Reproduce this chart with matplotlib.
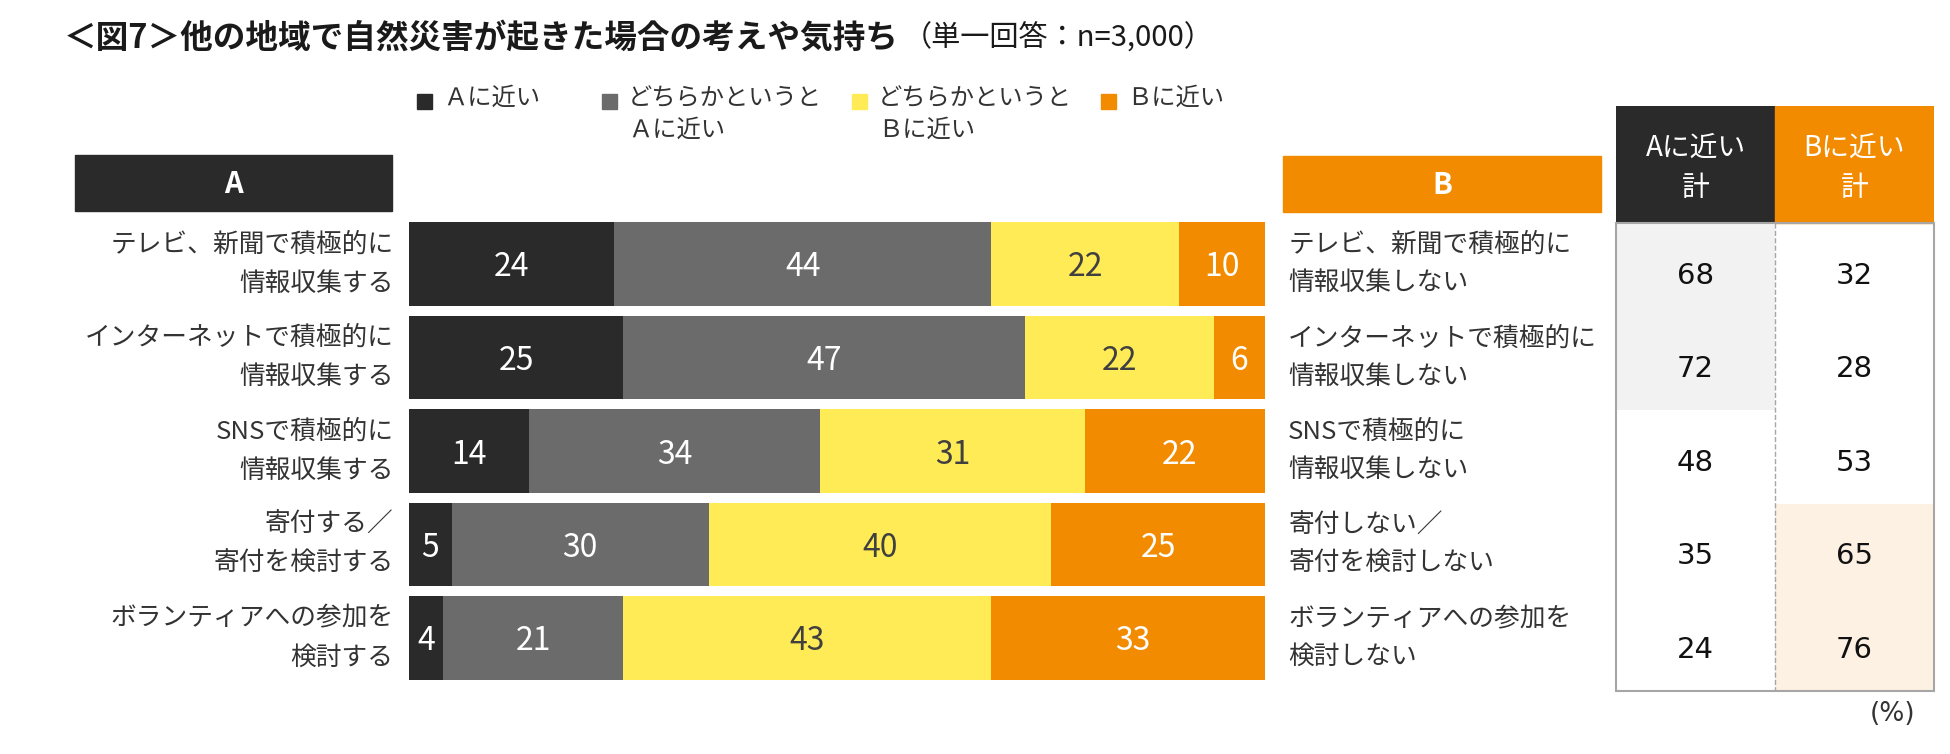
import numpy as np
import matplotlib
matplotlib.use("Agg")
import matplotlib.pyplot as plt
from matplotlib.patches import Rectangle

plt.rcParams["font.family"] = ["Noto Sans CJK JP", "DejaVu Sans"]

# ---- Data ----------------------------------------------------------------
labels_a = ["テレビ、新聞で積極的に\n情報収集する",
            "インターネットで積極的に\n情報収集する",
            "SNSで積極的に\n情報収集する",
            "寄付する／\n寄付を検討する",
            "ボランティアへの参加を\n検討する"]
labels_b = ["テレビ、新聞で積極的に\n情報収集しない",
            "インターネットで積極的に\n情報収集しない",
            "SNSで積極的に\n情報収集しない",
            "寄付しない／\n寄付を検討しない",
            "ボランティアへの参加を\n検討しない"]
series_names = ["Ａに近い", "どちらかというと\nＡに近い",
                "どちらかというと\nＢに近い", "Ｂに近い"]
near_a      = [24, 25, 14, 5, 4]
some_a      = [44, 47, 34, 30, 21]
some_b      = [22, 22, 31, 40, 43]
near_b      = [10, 6, 22, 25, 33]
total_a     = [68, 72, 48, 35, 24]
total_b     = [32, 28, 53, 65, 76]

DARK, GRAY, YELLOW, ORANGE = "#2a2a2a", "#6b6b6b", "#ffeb55", "#f28b00"
colors = [DARK, GRAY, YELLOW, ORANGE]
text_colors = ["white", "white", "#404040", "white"]
LABEL = "#333333"

# ---- Figure setup --------------------------------------------------------
W, H = 1950, 754
fig = plt.figure(figsize=(W / 100, H / 100), dpi=100)


def fx(px):
    return px / W


def fy(py):
    return 1 - py / H


# Title
title = fig.text(fx(64), fy(38), "＜図7＞他の地域で自然災害が起きた場合の考えや気持ち",
                 fontsize=23.5, fontweight="bold", va="center", color="#1a1a1a")
fig.canvas.draw()
bb = title.get_window_extent(fig.canvas.get_renderer())
fig.text(bb.x1 / W + fx(4), fy(38), "（単一回答：n=3,000）",
         fontsize=21, va="center", color="#1a1a1a")

# Legend
leg_sq_x = [417, 602, 852, 1101]
for xs, c, name in zip(leg_sq_x, colors, series_names):
    fig.patches.append(Rectangle((fx(xs), fy(109)), fx(15), 15 / H,
                                 transform=fig.transFigure, color=c))
    fig.text(fx(xs + 26), fy(85), name, fontsize=17.5, va="top",
             ha="left", color=LABEL, linespacing=1.3)

# A / B header boxes
fig.patches.append(Rectangle((fx(75), fy(211)), fx(317), 56 / H,
                             transform=fig.transFigure, color=DARK))
fig.text(fx(233), fy(184), "A", fontsize=21, fontweight="bold",
         color="white", ha="center", va="center")
fig.patches.append(Rectangle((fx(1283), fy(212)), fx(318), 56 / H,
                             transform=fig.transFigure, color=ORANGE))
fig.text(fx(1442), fy(185), "B", fontsize=21, fontweight="bold",
         color="white", ha="center", va="center")

# ---- Stacked bars --------------------------------------------------------
ax = fig.add_axes([fx(409), fy(684.75), fx(856), 467.5 / H])
y = np.arange(len(labels_a))
left = np.zeros(len(y))
for vals, c, tc in zip([near_a, some_a, some_b, near_b], colors, text_colors):
    vals = np.array(vals)
    ax.barh(y, vals, left=left, height=0.888, color=c, linewidth=0)
    for yi, l, v in zip(y, left, vals):
        ax.text(l + v / 2, yi, str(v), ha="center", va="center_baseline",
                fontsize=23, color=tc)
    left += vals
ax.set_xlim(0, 100)
ax.set_ylim(len(y) - 0.5, -0.5)
ax.axis("off")

for yi, la, lb in zip(y, labels_a, labels_b):
    ax.text(-0.018, yi, la, transform=ax.get_yaxis_transform(), ha="right",
            va="center", fontsize=18.5, color=LABEL, linespacing=1.65)
    ax.text(1.027, yi, lb, transform=ax.get_yaxis_transform(), ha="left",
            va="center", fontsize=18.5, color=LABEL, linespacing=1.6)

# ---- Totals table --------------------------------------------------------
tax = fig.add_axes([fx(1616), fy(691), fx(318), 585 / H])
n = len(total_a)
head = 1.25
tax.set_xlim(0, 2)
tax.set_ylim(n, -head)
tax.axis("off")

tax.add_patch(Rectangle((0, -head), 1, head, color=DARK))
tax.add_patch(Rectangle((1, -head), 1, head, color=ORANGE))
tax.text(0.5, -head / 2 + 0.04, "Aに近い\n計", ha="center", va="center",
         color="white", fontsize=20, linespacing=1.45)
tax.text(1.5, -head / 2 + 0.04, "Bに近い\n計", ha="center", va="center",
         color="white", fontsize=20, linespacing=1.45)

for i, (a, b) in enumerate(zip(total_a, total_b)):
    if a >= 60:
        tax.add_patch(Rectangle((0, i), 1, 1, color="#f2f2f2", linewidth=0))
    if b >= 60:
        tax.add_patch(Rectangle((1, i), 1, 1, color="#fdf1e3", linewidth=0))
    tax.text(0.5, i + 0.53, str(a), ha="center", va="center_baseline",
             fontsize=21, color="#111111", family="DejaVu Sans")
    tax.text(1.5, i + 0.53, str(b), ha="center", va="center_baseline",
             fontsize=21, color="#111111", family="DejaVu Sans")

tax.add_patch(Rectangle((0, 0), 2, n, fill=False, edgecolor="#a6a6a6",
                        linewidth=1.5, clip_on=False))
tax.plot([1, 1], [0, n], color="#a6a6a6", linestyle="--", linewidth=1)

fig.text(fx(1893), fy(714), "(%)", fontsize=19, ha="center", va="center",
         color="#333333", family="DejaVu Sans")

fig.savefig("out.png", dpi=100)
